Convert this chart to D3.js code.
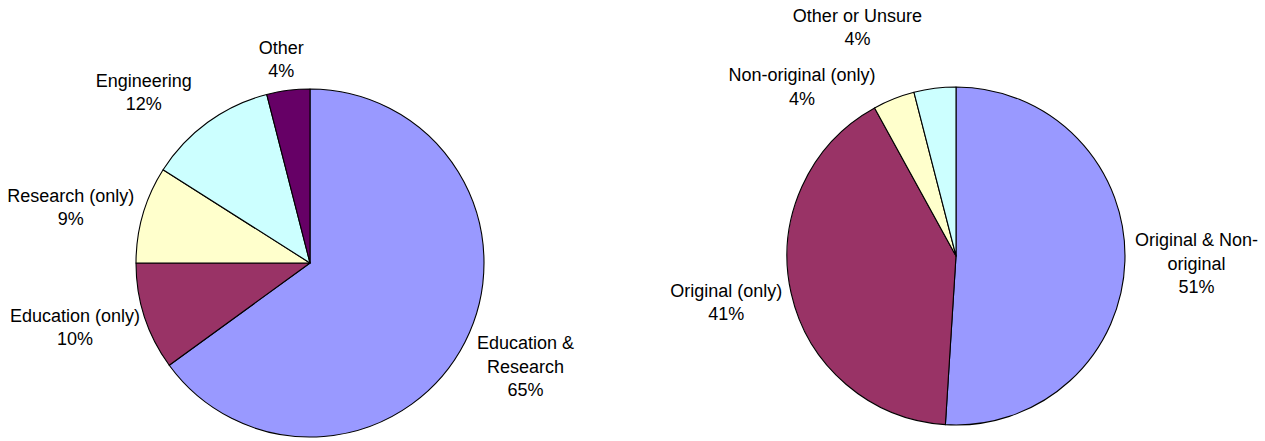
<!DOCTYPE html>
<html>
<head>
<meta charset="utf-8">
<script src="https://cdn.jsdelivr.net/npm/d3@7"></script>
<style>
  html, body { margin: 0; padding: 0; background: #fff; }
  svg text { font-family: "Liberation Sans", Arial, sans-serif; font-size: 18px; fill: #000; }
</style>
</head>
<body>
<div id="chart"></div>
<script>
// left pie: field of use
const leftCategories = ['Education & Research', 'Education (only)', 'Research (only)', 'Engineering', 'Other']
const leftValues = [65, 10, 9, 12, 4]
const leftLabelLines = [['Education &', 'Research'], ['Education (only)'], ['Research (only)'], ['Engineering'], ['Other']]

// right pie: kind of material
const rightCategories = ['Original & Non-original', 'Original (only)', 'Non-original (only)', 'Other or Unsure']
const rightValues = [51, 41, 4, 4]
const rightLabelLines = [['Original & Non-', 'original'], ['Original (only)'], ['Non-original (only)'], ['Other or Unsure']]

const leftColors = ['#9999ff', '#993366', '#ffffcc', '#ccffff', '#660066']
const rightColors = ['#9999ff', '#993366', '#ffffcc', '#ccffff']

const WIDTH = 1265, HEIGHT = 441
const LINE_H = 23.5

// label nudges (excel moves some labels to avoid collisions)
const leftNudge = [[3, -10], [5, -6], [1, 8], [-10, 0], [0, 1]]
const rightNudge = [[0, 0], [1, -2], [-34, 19], [-60, -29]]

let svg = d3.select('#chart')
  .append('svg')
    .attr('width', WIDTH)
    .attr('height', HEIGHT)

svg.append('rect')
  .attr('width', WIDTH)
  .attr('height', HEIGHT)
  .attr('fill', '#fff')

function drawPie(cx, cy, r, cats, values, lines, colors, nudge) {
  let pie = d3.pie().sort(null).value((d) => d.value)
  let arcs = pie(cats.map((c, i) => ({ name: c, value: values[i], lines: lines[i] })))
  let arc = d3.arc().innerRadius(0).outerRadius(r)

  let g = svg.append('g')
    .attr('transform', 'translate(' + [cx, cy] + ')')

  g.selectAll('path.slice')
    .data(arcs)
    .enter().append('path')
      .attr('class', 'slice')
      .attr('d', arc)
      .attr('fill', (d, i) => colors[i])
      .attr('stroke', '#000')
      .attr('stroke-width', 1.1)
      .attr('stroke-linejoin', 'round')

  let fmt = d3.format('.0%')
  let total = d3.sum(values)
  let R = r + 10
  let k = 2
  let clamp = (v) => Math.max(-1, Math.min(1, v))

  g.selectAll('text.label')
    .data(arcs)
    .enter().append('text')
      .attr('class', 'label')
      .attr('text-anchor', 'middle')
      .each(function(d, i) {
        let t = d3.select(this)
        let all = d.data.lines.concat([fmt(d.data.value / total)])
        all.forEach((s, j) => {
          t.append('tspan').attr('x', 0).attr('y', j * LINE_H).text(s)
        })
        let bb = this.getBBox()
        let a = (d.startAngle + d.endAngle) / 2
        let px = R * Math.sin(a), py = -R * Math.cos(a)
        let tx = px + bb.width / 2 * clamp(k * Math.sin(a)) + nudge[i][0]
        let ty = py - bb.height / 2 * clamp(k * Math.cos(a)) + nudge[i][1]
        t.attr('transform', 'translate(' + [tx - (bb.x + bb.width / 2), ty - (bb.y + bb.height / 2)] + ')')
      })
}

drawPie(310, 263, 174, leftCategories, leftValues, leftLabelLines, leftColors, leftNudge)
drawPie(956, 256, 169, rightCategories, rightValues, rightLabelLines, rightColors, rightNudge)
</script>
</body>
</html>
